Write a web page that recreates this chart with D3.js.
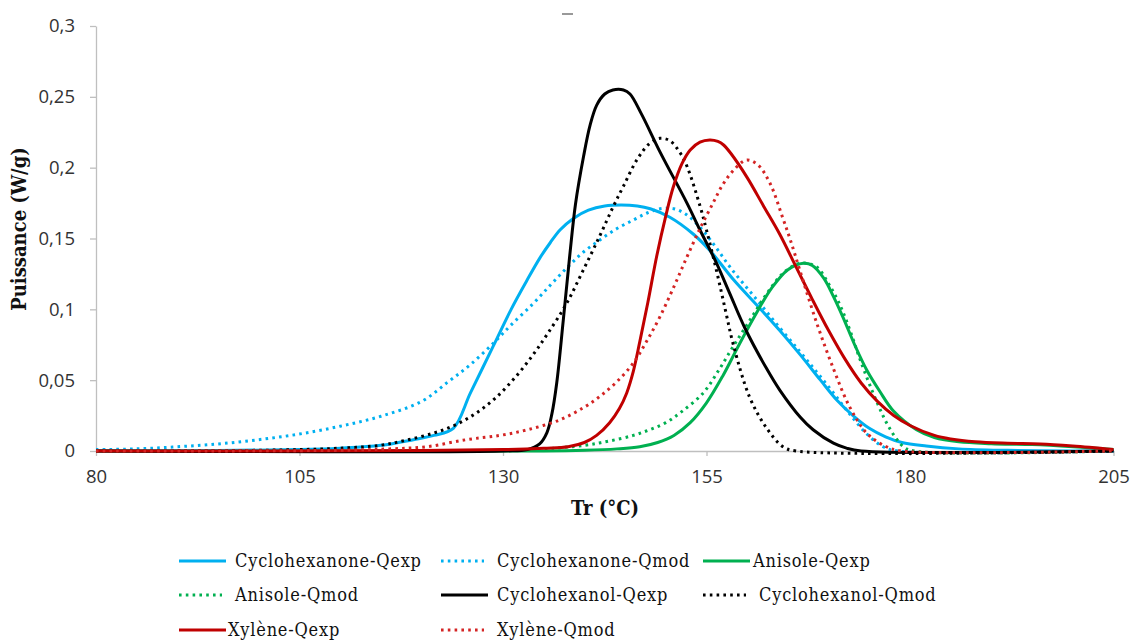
<!DOCTYPE html>
<html>
<head>
<meta charset="utf-8">
<script src="https://cdn.jsdelivr.net/npm/d3@7"></script>
<style>
  body { margin: 0; background: #fff; }
  svg { display: block; }
  .tick text { font-family: "Open Sans", sans-serif; font-size: 18.5px; fill: #333; }
  .legend text { font-family: "DejaVu Serif Condensed", "DejaVu Serif", serif; font-size: 18px; letter-spacing: 0.8px; fill: #111; }
  .title { font-family: "DejaVu Serif Condensed", "DejaVu Serif", serif; font-size: 20px; font-weight: bold; fill: #111; }
</style>
</head>
<body>
<div id="chart"></div>
<script>
// values: [Tr (°C), puissance (W/g)]
const cyclohexanoneExp = [[80,0],[95,0.0003],[105,0.001],[110,0.002],[115,0.004],[119,0.008],[121.5,0.011],[123.9,0.016],
  [126,0.041],[128.8,0.074],[131,0.1],[132.9,0.12],[134.5,0.136],[135.8,0.147],[137,0.156],[138.6,0.164],[140.5,0.17],
  [142.5,0.173],[144.5,0.1737],[146.5,0.173],[148.1,0.171],[150.5,0.165],[153.4,0.153],[155.5,0.141],[158.3,0.121],
  [161.5,0.101],[164,0.085],[166.5,0.068],[169,0.05],[171,0.036],[173,0.025],[175,0.016],[177,0.01],[179,0.006],
  [182,0.0035],[186,0.0015],[192,0.0005],[200,0],[205,0]];
const cyclohexanoneMod = [[80,0.001],[85,0.0015],[90,0.003],[95,0.005],[100,0.008],[105,0.012],[110,0.0175],[115,0.0245],
  [120,0.035],[123.3,0.049],[126,0.061],[128.8,0.076],[131,0.089],[133.7,0.104],[135.8,0.117],[137.8,0.129],
  [139.8,0.14],[141.9,0.149],[144,0.157],[146,0.163],[147.7,0.168],[149.3,0.171],[151,0.171],[152.5,0.167],[154.2,0.158],
  [156,0.145],[158,0.129],[161,0.108],[164,0.087],[166.5,0.07],[168.5,0.056],[170.6,0.041],[172.6,0.026],
  [174.7,0.012],[176.7,0.003],[178.5,0],[205,0]];
const anisoleExp = [[80,0],[135,0],[140,0.0005],[144,0.0015],[146.8,0.003],[149,0.006],[151,0.011],[153,0.02],
  [155,0.034],[157,0.053],[159,0.075],[161,0.096],[163,0.115],[165,0.128],[166.9,0.1325],[168,0.131],
  [169.4,0.122],[170.6,0.109],[171.8,0.094],[173.2,0.075],[174.7,0.057],[176.3,0.042],[178,0.028],[180.8,0.015],
  [183,0.0095],[186,0.0065],[190,0.0052],[195,0.0045],[200,0.003],[205,0.001]];
const anisoleMod = [[80,0],[130,0.0005],[135,0.0015],[140,0.004],[143,0.007],[146,0.011],[148,0.015],[150,0.02],
  [152,0.028],[154.6,0.041],[156.5,0.057],[158.3,0.074],[160.3,0.092],[162.4,0.111],[164.5,0.126],[166.5,0.1325],
  [168.5,0.13],[170,0.118],[171.4,0.103],[172.7,0.084],[173.9,0.064],[175.9,0.035],[177.5,0.016],[179.2,0.003],
  [180.5,0],[205,0]];
const cyclohexanolExp = [[80,0],[130,0],[133,0.001],[134.5,0.005],[135.4,0.013],[136,0.026],[136.6,0.048],[137.4,0.092],
  [138.2,0.138],[138.9,0.174],[139.9,0.208],[140.7,0.23],[141.5,0.244],[142.5,0.252],[143.5,0.2548],[144.8,0.2548],
  [145.6,0.252],[147,0.238],[149.3,0.211],[152.6,0.175],[154.2,0.156],[156.2,0.133],[157.8,0.112],[159.7,0.087],
  [162.4,0.058],[164,0.043],[166.5,0.024],[168.1,0.015],[170.6,0.0055],[172.2,0.002],[174,0],[205,0]];
const cyclohexanolMod = [[80,0],[95,0.0002],[100,0.0005],[105,0.001],[110,0.002],[114.9,0.004],[118,0.0075],[121.4,0.0125],
  [124,0.018],[126.5,0.026],[129,0.037],[131.5,0.052],[133.7,0.068],[135.5,0.083],[137.8,0.104],[139.8,0.127],
  [141.9,0.152],[143.5,0.172],[144.8,0.187],[146.5,0.206],[148,0.217],[149.3,0.2207],[150.5,0.219],[151.7,0.211],
  [152.6,0.201],[154.2,0.173],[155,0.156],[156.2,0.128],[157.3,0.1],[158.3,0.075],[160.3,0.038],[162.4,0.016],
  [164.4,0.003],[166,0],[205,0]];
const xyleneExp = [[80,0],[120,0.0003],[130,0.001],[135,0.002],[138,0.003],[140,0.006],[141.5,0.011],[143.1,0.02],
  [144.3,0.03],[145.2,0.041],[146,0.056],[146.8,0.077],[147.8,0.105],[148.9,0.138],[150,0.166],[150.9,0.186],[152,0.203],
  [153,0.2125],[154.2,0.218],[155.4,0.2195],[156.4,0.2185],[157.1,0.216],[158,0.21],[160,0.193],[162,0.173],
  [164,0.153],[166,0.13],[168,0.107],[170,0.085],[172,0.065],[174,0.048],[176,0.035],[178,0.025],
  [180,0.018],[183,0.011],[185,0.0085],[188,0.0065],[192,0.0055],[196,0.005],[200,0.0035],[205,0.001]];
const xyleneMod = [[80,0],[110,0.0005],[116,0.0015],[120.6,0.003],[125.5,0.008],[129.6,0.011],[133,0.015],[137,0.022],
  [140,0.031],[142,0.039],[144,0.049],[146,0.062],[147.7,0.078],[149.3,0.095],[151,0.116],[152.6,0.137],[154.2,0.157],
  [155.8,0.175],[157,0.188],[158.3,0.198],[159.9,0.2054],[161.3,0.202],[162.8,0.189],[164.4,0.164],[165.3,0.149],
  [166.5,0.127],[168.5,0.091],[170.6,0.058],[172.6,0.031],[174.7,0.0125],[177.1,0.003],[179,0],[205,0]];

const seriesNames = ["Cyclohexanone-Qexp", "Cyclohexanone-Qmod", "Anisole-Qexp", "Anisole-Qmod",
  "Cyclohexanol-Qexp", "Cyclohexanol-Qmod", "Xylène-Qexp", "Xylène-Qmod"];
const seriesValues = [cyclohexanoneExp, cyclohexanoneMod, anisoleExp, anisoleMod,
  cyclohexanolExp, cyclohexanolMod, xyleneExp, xyleneMod];
const xTicks = [80, 105, 130, 155, 180, 205];
const yTicks = [0, 0.05, 0.1, 0.15, 0.2, 0.25, 0.3];

// styles
const colors = ["#00B0F0", "#00B0F0", "#00B050", "#00B050", "#000000", "#000000", "#C00000", "#D42424"];
const dotted = [false, true, false, true, false, true, false, true];

const width = 1133, height = 640;

const svg = d3.select("#chart")
    .append("svg")
    .attr("width", width)
    .attr("height", height);

const x = d3.scaleLinear().domain([80, 205]).range([96, 1113.5]);
const y = d3.scaleLinear().domain([0, 0.3]).range([451, 26]);

const fr = d3.formatLocale({decimal: ",", thousands: " ", grouping: [3], currency: ["", ""]});

// axes
svg.append("g")
    .attr("transform", "translate(96,0)")
    .call(d3.axisLeft(y).tickValues(yTicks).tickFormat(fr.format("~g")).tickSize(6).tickSizeOuter(0).tickPadding(15));

svg.append("g")
    .attr("transform", "translate(0,451)")
    .call(d3.axisBottom(x).tickValues(xTicks).tickFormat(d => d).tickSize(5).tickSizeOuter(0).tickPadding(14));

svg.selectAll(".domain, .tick line").attr("stroke", "#BFBFBF").attr("stroke-width", 1.3);

// small mark at the top (leftover title)
svg.append("line")
    .attr("x1", 562).attr("x2", 573).attr("y1", 14).attr("y2", 14)
    .attr("stroke", "#999").attr("stroke-width", 2);

// lines
const line = d3.line()
    .x(d => x(d[0]))
    .y(d => y(d[1]))
    .curve(d3.curveCatmullRom.alpha(0.5));

svg.append("g").selectAll("path")
    .data(seriesValues)
    .enter()
    .append("path")
    .attr("d", line)
    .attr("fill", "none")
    .attr("stroke", (d, i) => colors[i])
    .attr("stroke-width", 3)
    .attr("stroke-dasharray", (d, i) => dotted[i] ? "2.6,4.2" : null)
    .attr("stroke-linejoin", "round");

// axis titles
svg.append("text")
    .attr("class", "title")
    .attr("x", 605)
    .attr("y", 515)
    .attr("text-anchor", "middle")
    .text("Tr (°C)");

svg.append("text")
    .attr("class", "title")
    .attr("transform", "translate(26,229) rotate(-90)")
    .attr("text-anchor", "middle")
    .text("Puissance (W/g)");

// legend
const legendPos = [
    {x: 179, y: 561, tx: 235}, {x: 441, y: 561, tx: 497}, {x: 703, y: 561, tx: 753},
    {x: 179, y: 595, tx: 235}, {x: 441, y: 595, tx: 497}, {x: 703, y: 595, tx: 759},
    {x: 179, y: 630, tx: 228}, {x: 441, y: 630, tx: 497}
];

const legend = svg.append("g").attr("class", "legend");

const items = legend.selectAll("g")
    .data(seriesNames)
    .enter()
    .append("g");

items.append("line")
    .attr("x1", (d, i) => legendPos[i].x)
    .attr("x2", (d, i) => legendPos[i].x + (dotted[i] ? 43 : 47))
    .attr("y1", (d, i) => legendPos[i].y)
    .attr("y2", (d, i) => legendPos[i].y)
    .attr("stroke", (d, i) => colors[i])
    .attr("stroke-width", 3)
    .attr("stroke-dasharray", (d, i) => dotted[i] ? "2.6,4.2" : null);

items.append("text")
    .attr("x", (d, i) => legendPos[i].tx)
    .attr("y", (d, i) => legendPos[i].y)
    .attr("dy", "0.35em")
    .text(d => d);
</script>
</body>
</html>
